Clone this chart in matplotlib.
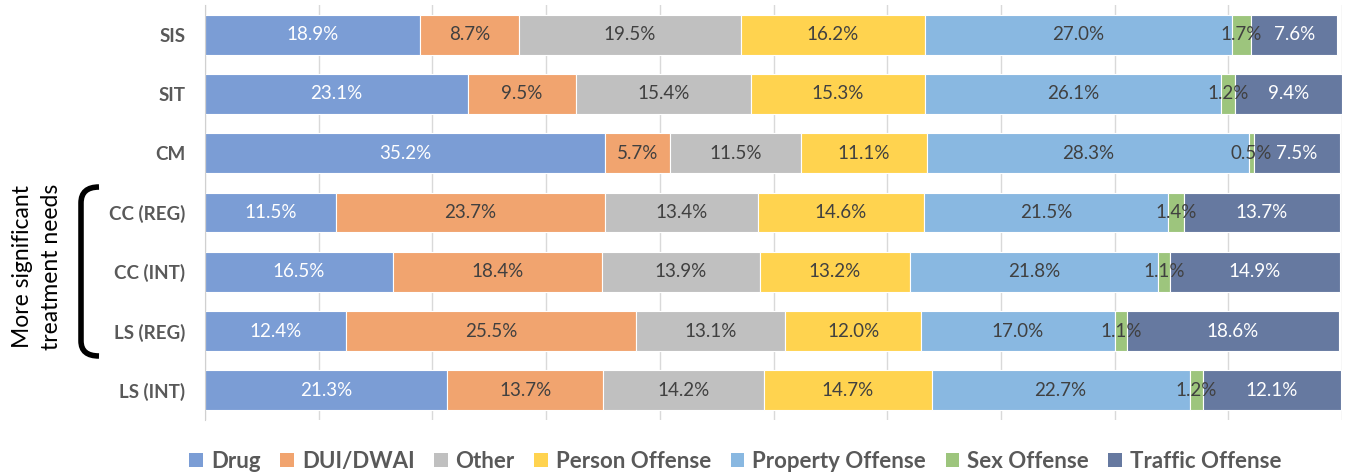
import numpy as np
import matplotlib
matplotlib.use("Agg")
import matplotlib.pyplot as plt
from matplotlib.path import Path
from matplotlib.patches import PathPatch, Patch

plt.rcParams['font.family'] = ['Lato', 'DejaVu Sans']

# Data
groups = ['SIS', 'SIT', 'CM', 'CC (REG)', 'CC (INT)', 'LS (REG)', 'LS (INT)']
categories = ['Drug', 'DUI/DWAI', 'Other', 'Person Offense',
              'Property Offense', 'Sex Offense', 'Traffic Offense']
drug = [18.9, 23.1, 35.2, 11.5, 16.5, 12.4, 21.3]
dui = [8.7, 9.5, 5.7, 23.7, 18.4, 25.5, 13.7]
other = [19.5, 15.4, 11.5, 13.4, 13.9, 13.1, 14.2]
person = [16.2, 15.3, 11.1, 14.6, 13.2, 12.0, 14.7]
property_ = [27.0, 26.1, 28.3, 21.5, 21.8, 17.0, 22.7]
sex = [1.7, 1.2, 0.5, 1.4, 1.1, 1.1, 1.2]
traffic = [7.6, 9.4, 7.5, 13.7, 14.9, 18.6, 12.1]

series = [drug, dui, other, person, property_, sex, traffic]
colors = ['#7b9dd5', '#f1a46f', '#c0c0c0', '#ffd34f', '#89b8e1', '#9dc57d', '#6679a0']
label_colors = ['white', '#404040', '#404040', '#404040', '#404040', '#404040', 'white']

fig = plt.figure(figsize=(13.47, 4.74), dpi=100)
ax = fig.add_axes([205 / 1347, 1 - 420 / 474, 1137 / 1347, 415 / 474])

y = np.arange(len(groups))
left = np.zeros(len(groups))
for vals, col, lc in zip(series, colors, label_colors):
    vals = np.array(vals)
    ax.barh(y, vals, left=left, height=0.67, color=col, edgecolor='white',
            linewidth=0.8, zorder=2)
    for yi, l, v in zip(y, left, vals):
        ax.text(l + v / 2, yi, f'{v:.1f}%', ha='center', va='center',
                fontsize=13.5, color=lc, zorder=3)
    left += vals

ax.set_xlim(0, 100)
ax.set_ylim(6.5, -0.5)
ax.set_xticks(np.arange(0, 101, 10))
ax.set_xticklabels([])
ax.tick_params(axis='x', length=0)
ax.tick_params(axis='y', length=0, pad=14)
ax.set_yticks(y)
ax.set_yticklabels(groups, fontsize=13.5, fontweight='bold', color='#595959')
ax.grid(axis='x', color='#d9d9d9', linewidth=1, zorder=0)
for s in ['top', 'right', 'bottom']:
    ax.spines[s].set_visible(False)
ax.spines['left'].set_color('#d0d0d0')

# bracket (figure pixel coordinates)
W, H = 1347, 474
def fp(x, yy):
    return (x / W, 1 - yy / H)
verts = [fp(99, 187), fp(81, 187), fp(81, 203), fp(81, 341),
         fp(81, 356), fp(99, 356)]
codes = [Path.MOVETO, Path.CURVE3, Path.CURVE3, Path.LINETO,
         Path.CURVE3, Path.CURVE3]
fig.patches.append(PathPatch(Path(verts, codes), transform=fig.transFigure,
                             fill=False, lw=4, edgecolor='black'))
fig.text(37 / W, 1 - 267 / H, 'More significant\ntreatment needs', rotation=90,
         ha='center', va='center', fontsize=16.5, color='black', linespacing=1.5)

handles = [Patch(facecolor=c, edgecolor='none') for c in colors]
fig.legend(handles, categories, loc='center', bbox_to_anchor=(0.546, 0.027),
           ncol=7, frameon=False, handlelength=0.62,
           handleheight=0.62, handletextpad=0.35, columnspacing=0.88,
           prop={'weight': 'bold', 'size': 16}, labelcolor='#595959')

fig.savefig('out.png', dpi=100)
